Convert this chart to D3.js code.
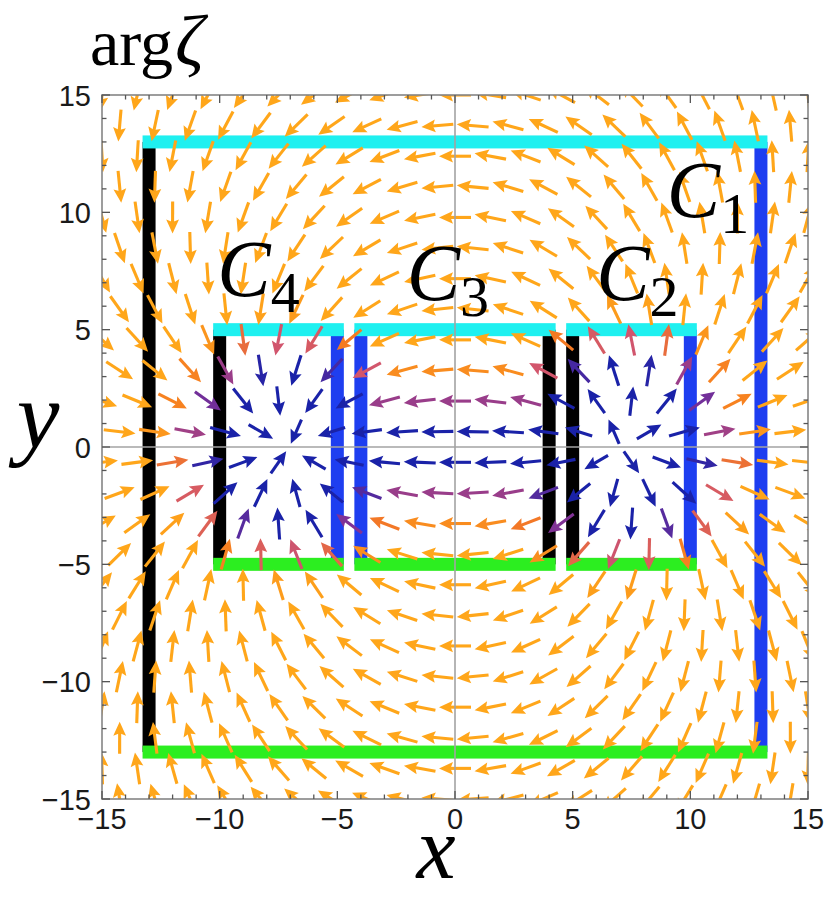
<!DOCTYPE html>
<html>
<head>
<meta charset="utf-8">
<script src="https://cdn.jsdelivr.net/npm/d3@7"></script>
<style>
  body { margin: 0; background: #fff; }
  svg { display: block; }
</style>
</head>
<body>
<svg id="chart" width="827" height="897"></svg>
<script>
// ---- data -------------------------------------------------------------
// zeta(z) = (z - z1)(z - z2) with its two zeros on the real axis
const zeroXs = [-7, 7];

// integration contours: rectangle extents
const contourNames = ["1", "2", "3", "4"];
const contourX0 = [-13, 5, -4, -10];
const contourX1 = [13, 10, 4, -5];
const contourY0 = [-13, -5, -5, -5];
const contourY1 = [13, 5, 5, 5];
// which colour runs along the left / right edge of each contour
const contourLeftEdge = ["black", "black", "blue", "black"];
const contourRightEdge = ["blue", "blue", "black", "blue"];

// label anchors (data coordinates of the "C" glyph)
const labelX = [9.0, 6.0, -2.05, -10.1];
const labelY = [9.8, 6.25, 6.25, 6.45];

// tick labels
const tickValues = [-15, -10, -5, 0, 5, 10, 15];

// ---- layout -----------------------------------------------------------
const svg = d3.select("#chart");
const plotL = 102, plotR = 808, plotT = 95, plotB = 799;
const x = d3.scaleLinear().domain([-15, 15]).range([plotL, plotR]);
const y = d3.scaleLinear().domain([-15, 15]).range([plotB, plotT]);

const edgeColour = {
  cyan: "#1ff0f0",
  green: "#2cee20",
  blue: "#1e3ef0",
  black: "#000000"
};
const barWidth = 13;

svg.append("defs").append("clipPath").attr("id", "plot-clip")
  .append("rect").attr("x", plotL).attr("y", plotT)
  .attr("width", plotR - plotL).attr("height", plotB - plotT);

const plot = svg.append("g").attr("clip-path", "url(#plot-clip)");

// ---- contours ---------------------------------------------------------
const contours = contourNames.map((n, i) => ({
  name: n, x0: contourX0[i], x1: contourX1[i], y0: contourY0[i], y1: contourY1[i],
  leftEdge: contourLeftEdge[i], rightEdge: contourRightEdge[i]
}));

const bars = plot.append("g");
contours.forEach(c => {
  // vertical edges first, horizontal edges drawn over them
  [[c.x0, c.leftEdge], [c.x1, c.rightEdge]].forEach(([xv, col]) => {
    bars.append("rect")
      .attr("x", x(xv) - barWidth / 2)
      .attr("y", y(c.y1))
      .attr("width", barWidth)
      .attr("height", y(c.y0) - y(c.y1))
      .attr("fill", edgeColour[col]);
  });
  [[c.y1, "cyan"], [c.y0, "green"]].forEach(([yv, col]) => {
    bars.append("rect")
      .attr("x", x(c.x0) - barWidth / 2)
      .attr("y", y(yv) - barWidth / 2)
      .attr("width", x(c.x1) - x(c.x0) + barWidth)
      .attr("height", barWidth)
      .attr("fill", edgeColour[col]);
  });
});

// ---- vector field -----------------------------------------------------
const [za, zb] = zeroXs;
function zeta(px, py) {
  // (z - za)(z - zb), z = px + i py
  const re = (px - za) * (px - zb) - py * py;
  const im = py * (2 * px - za - zb);
  return [re, im];
}
// tint: distance from the pair of zeros and the cut joining them
const coreRadius = 2.3;
function tintValue(px, py) {
  const d0 = Math.min(Math.hypot(px - za, py), Math.hypot(px - zb, py));
  const dSeg = (px >= za && px <= zb) ? Math.abs(py) : d0;
  return Math.min(dSeg, d0 - coreRadius);
}
const colour = d3.scaleLinear()
  .domain([0, 1.1, 1.8, 2.3, 2.9, 3.8])
  .range(["#1a22a8", "#1a22a8", "#7f3197", "#d2566c", "#f57a22", "#ffa61a"])
  .clamp(true);
const arrowLength = d3.scaleLinear().domain([0, 45]).range([25, 32]).clamp(true);

// hexagonal sample points
const nRows = 24, colStep = 1.5;
const points = [];
d3.range(nRows).forEach(k => {
  const py = -15 + k * 30 / (nRows - 1);
  const start = (k % 2 === 1) ? -15 : -15 + colStep / 2;
  for (let px = start; px <= 15 + 1e-9; px += colStep) points.push([px, py]);
});

const arrows = plot.append("g");
points.forEach(([px, py]) => {
  const [u, v] = zeta(px, py);
  const mag = Math.hypot(u, v);
  if (mag === 0) return;
  const dx = u / mag, dy = -v / mag;       // screen direction
  const L = arrowLength(mag);
  const cx = x(px), cy = y(py);
  const tx = cx - dx * L / 2, ty = cy - dy * L / 2;
  const hx = cx + dx * L / 2, hy = cy + dy * L / 2;
  const headLen = 14, headHalf = 6.4;
  const bx = hx - dx * headLen, by = hy - dy * headLen;
  const nx = -dy, ny = dx;
  const col = colour(tintValue(px, py));
  arrows.append("line")
    .attr("x1", tx).attr("y1", ty)
    .attr("x2", bx + dx * 3).attr("y2", by + dy * 3)
    .attr("stroke", col).attr("stroke-width", 3.1);
  const notchX = bx + dx * 2.5, notchY = by + dy * 2.5;
  arrows.append("path")
    .attr("d", `M${hx},${hy}L${bx + nx * headHalf},${by + ny * headHalf}` +
               `L${notchX},${notchY}L${bx - nx * headHalf},${by - ny * headHalf}Z`)
    .attr("fill", col);
});

// ---- axes through the origin -------------------------------------------
const axisG = svg.append("g").attr("stroke", "#a3a3a3").attr("stroke-width", 1.6);
axisG.append("line").attr("x1", x(0)).attr("x2", x(0)).attr("y1", plotT).attr("y2", plotB);
axisG.append("line").attr("x1", plotL).attr("x2", plotR).attr("y1", y(0)).attr("y2", y(0));

// ---- frame and ticks ---------------------------------------------------
const frame = svg.append("g");
frame.append("rect")
  .attr("x", plotL).attr("y", plotT).attr("width", plotR - plotL).attr("height", plotB - plotT)
  .attr("fill", "none").attr("stroke", "#858585").attr("stroke-width", 1.6);

const allTicks = d3.range(-15, 16, 1);
const tickG = frame.append("g").attr("stroke", "#555").attr("stroke-width", 1.3);
allTicks.forEach(t => {
  const len = (t % 5 === 0) ? 8 : 4.5;
  tickG.append("line").attr("x1", x(t)).attr("x2", x(t)).attr("y1", plotB).attr("y2", plotB - len);
  tickG.append("line").attr("x1", x(t)).attr("x2", x(t)).attr("y1", plotT).attr("y2", plotT + len);
  tickG.append("line").attr("y1", y(t)).attr("y2", y(t)).attr("x1", plotL).attr("x2", plotL + len);
  tickG.append("line").attr("y1", y(t)).attr("y2", y(t)).attr("x1", plotR).attr("x2", plotR - len);
});

const fmt = t => (t < 0 ? "\u2212" + Math.abs(t) : String(t));
const tickFont = "'Liberation Sans', Arial, sans-serif";
frame.selectAll("text.xt").data(tickValues).join("text")
  .attr("class", "xt")
  .attr("x", d => x(d)).attr("y", 829)
  .attr("text-anchor", "middle")
  .attr("font-family", tickFont).attr("font-size", 29).attr("fill", "#1a1a1a")
  .text(fmt);
frame.selectAll("text.yt").data(tickValues).join("text")
  .attr("class", "yt")
  .attr("x", 91).attr("y", d => y(d) + 10.5)
  .attr("text-anchor", "end")
  .attr("font-family", tickFont).attr("font-size", 29).attr("fill", "#1a1a1a")
  .text(fmt);

// ---- titles -------------------------------------------------------------
const serif = "'Liberation Serif', 'Times New Roman', serif";
const title = svg.append("text")
  .attr("x", 90).attr("y", 65)
  .attr("font-family", serif).attr("font-size", 66);
title.append("tspan").text("arg");
title.append("tspan").attr("font-style", "italic").attr("font-size", 72).attr("dx", 2).text("\u03B6");

svg.append("text")
  .attr("x", 436).attr("y", 878)
  .attr("text-anchor", "middle")
  .attr("font-family", serif).attr("font-style", "italic").attr("font-size", 88)
  .text("x");
svg.append("text")
  .attr("x", 38).attr("y", 448)
  .attr("text-anchor", "middle")
  .attr("font-family", serif).attr("font-style", "italic").attr("font-size", 96)
  .text("y");

// ---- contour labels -----------------------------------------------------
const labels = svg.append("g");
contours.forEach((c, i) => {
  const t = labels.append("text")
    .attr("x", x(labelX[i])).attr("y", y(labelY[i]))
    .attr("font-family", serif).attr("font-size", 80);
  t.append("tspan").attr("font-style", "italic").text("C");
  t.append("tspan").attr("font-size", 58).attr("dy", 16).text(c.name);
});
</script>
</body>
</html>
